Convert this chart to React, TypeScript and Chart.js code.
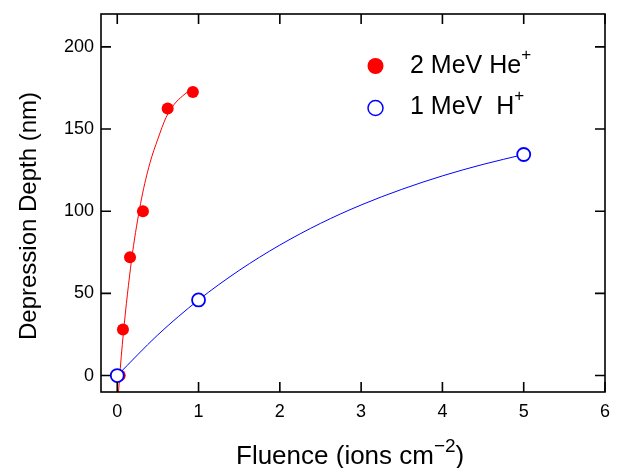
import { useEffect, useRef } from 'react';
import { Chart, registerables } from 'chart.js';

Chart.register(...registerables);

// ---- data ----
const xTickValues = [0, 1, 2, 3, 4, 5, 6];
const yTickValues = [0, 50, 100, 150, 200];

const heFluence = [0.03, 0.07, 0.157, 0.316, 0.62, 0.93];
const heDepth = [0, 28, 72, 100, 162.5, 172.5];

const hFluence = [0, 1, 5];
const hDepth = [0, 46, 134.5];

// fitted curves
const heFitFluence = [0, 0.05, 0.1, 0.15, 0.2, 0.3, 0.4, 0.5, 0.6, 0.7, 0.8, 0.93];
const heFitDepth = [-20, 12, 38, 60, 79, 108, 129, 144, 157, 165, 170, 175];

const hFitFluence = [0, 0.5, 1, 1.5, 2, 2.5, 3, 3.5, 4, 4.5, 5];
const hFitDepth = [0, 24.8, 46, 64, 79.4, 92.6, 103.8, 113.3, 121.5, 128.5, 134.5];

const FONT = '"Liberation Sans", Arial, Helvetica, sans-serif';

type Part = { text: string; size: number; dy: number };

function drawRich(ctx: CanvasRenderingContext2D, parts: Part[], x: number, y: number) {
  let cx = x;
  for (const p of parts) {
    ctx.font = `${p.size}px ${FONT}`;
    ctx.fillText(p.text, cx, y + p.dy);
    cx += ctx.measureText(p.text).width;
  }
}

function richWidth(ctx: CanvasRenderingContext2D, parts: Part[]) {
  let w = 0;
  for (const p of parts) {
    ctx.font = `${p.size}px ${FONT}`;
    w += ctx.measureText(p.text).width;
  }
  return w;
}

const framePlugin = {
  id: 'frameAndText',
  afterDraw(chart: any) {
    const { ctx, chartArea } = chart;
    const { left, right, top, bottom } = chartArea;
    const xs = chart.scales.x;
    const ys = chart.scales.y;
    ctx.save();
    ctx.strokeStyle = '#000';
    ctx.lineWidth = 1.6;
    ctx.strokeRect(left, top, right - left, bottom - top);
    const tl = 10;
    ctx.beginPath();
    for (const v of xTickValues) {
      const px = xs.getPixelForValue(v);
      ctx.moveTo(px, bottom);
      ctx.lineTo(px, bottom - tl);
      ctx.moveTo(px, top);
      ctx.lineTo(px, top + tl);
    }
    for (const v of yTickValues) {
      const py = ys.getPixelForValue(v);
      ctx.moveTo(left, py);
      ctx.lineTo(left + tl, py);
      ctx.moveTo(right, py);
      ctx.lineTo(right - tl, py);
    }
    ctx.stroke();

    ctx.fillStyle = '#000';
    ctx.textAlign = 'left';
    ctx.textBaseline = 'alphabetic';

    // x axis title
    const xt: Part[] = [
      { text: 'Fluence (ions cm', size: 26, dy: 0 },
      { text: '\u22122', size: 19, dy: -12 },
      { text: ')', size: 26, dy: 0 },
    ];
    const w = richWidth(ctx, xt);
    drawRich(ctx, xt, 236, 464);

    // y axis title
    ctx.save();
    ctx.translate(36, 216);
    ctx.rotate(-Math.PI / 2);
    ctx.textAlign = 'center';
    ctx.font = `24px ${FONT}`;
    ctx.fillText('Depression Depth (nm)', 0, 0);
    ctx.restore();

    // legend
    ctx.beginPath();
    ctx.arc(375.5, 66, 8, 0, Math.PI * 2);
    ctx.fillStyle = '#ff0000';
    ctx.fill();
    ctx.beginPath();
    ctx.arc(375.5, 108, 7.5, 0, Math.PI * 2);
    ctx.fillStyle = '#fff';
    ctx.fill();
    ctx.strokeStyle = '#0000ff';
    ctx.lineWidth = 1.5;
    ctx.stroke();

    ctx.fillStyle = '#000';
    ctx.textAlign = 'left';
    drawRich(ctx, [
      { text: '2 MeV He', size: 25, dy: 0 },
      { text: '+', size: 17, dy: -13 },
    ], 410, 73);
    drawRich(ctx, [
      { text: '1 MeV  H', size: 25, dy: 0 },
      { text: '+', size: 17, dy: -13 },
    ], 410, 114);
    ctx.restore();
    void w;
  },
};

export default function App() {
  const ref = useRef<HTMLCanvasElement>(null);

  useEffect(() => {
    if (!ref.current) return;
    const chart = new Chart(ref.current, {
      type: 'scatter',
      data: {
        datasets: [
          {
            label: '1 MeV H+',
            data: hFluence.map((x, i) => ({ x, y: hDepth[i] })),
            showLine: false,
            pointRadius: 6.5,
            pointBorderWidth: 1.8,
            pointBackgroundColor: '#ffffff',
            pointBorderColor: '#0000ff',
          },
          {
            label: '2 MeV He+',
            data: heFluence.map((x, i) => ({ x, y: heDepth[i] })),
            showLine: false,
            pointRadius: 6,
            pointBorderWidth: 0,
            pointBackgroundColor: '#ff0000',
            pointBorderColor: '#ff0000',
          },
          {
            label: 'H fit',
            data: hFitFluence.map((x, i) => ({ x, y: hFitDepth[i] })),
            showLine: true,
            pointRadius: 0,
            borderColor: '#0000ff',
            borderWidth: 1,
            cubicInterpolationMode: 'monotone',
          },
          {
            label: 'He fit',
            data: heFitFluence.map((x, i) => ({ x, y: heFitDepth[i] })),
            showLine: true,
            pointRadius: 0,
            borderColor: '#ff0000',
            borderWidth: 1,
            cubicInterpolationMode: 'monotone',
          },
        ],
      },
      options: {
        responsive: false,
        animation: false,
        layout: { padding: { left: 0, top: 14, right: 12, bottom: 0 } },
        plugins: { legend: { display: false }, tooltip: { enabled: false } },
        scales: {
          x: {
            type: 'linear',
            min: -0.2,
            max: 6,
            grid: { display: false, drawTicks: false },
            border: { display: false },
            afterBuildTicks: (s: any) => {
              s.ticks = xTickValues.map((v) => ({ value: v }));
            },
            afterFit: (s: any) => {
              s.height = 76;
              s.paddingLeft = 0;
              s.paddingRight = 0;
            },
            ticks: {
              color: '#000',
              padding: 9,
              maxRotation: 0,
              autoSkip: false,
              font: { family: FONT, size: 18 },
            },
          },
          y: {
            type: 'linear',
            min: -10,
            max: 220,
            grid: { display: false, drawTicks: false },
            border: { display: false },
            afterBuildTicks: (s: any) => {
              s.ticks = yTickValues.map((v) => ({ value: v }));
            },
            afterFit: (s: any) => {
              s.width = 101;
              s.paddingTop = 0;
              s.paddingBottom = 0;
            },
            ticks: {
              color: '#000',
              padding: 7,
              autoSkip: false,
              font: { family: FONT, size: 18 },
            },
          },
        },
      },
      plugins: [framePlugin],
    } as any);
    return () => chart.destroy();
  }, []);

  return (
    <div style={{ position: 'absolute', left: 0, top: 0, width: 617, height: 468, background: '#fff' }}>
      <canvas ref={ref} width={617} height={468} />
    </div>
  );
}
